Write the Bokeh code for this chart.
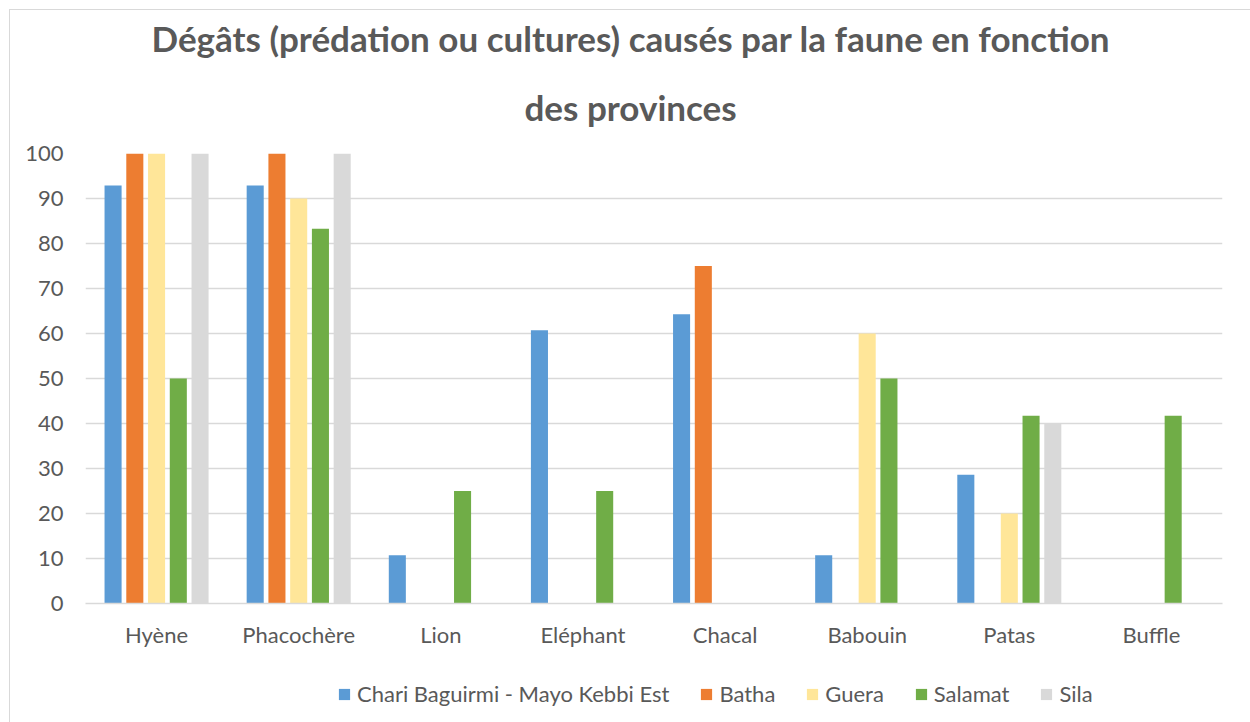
from bokeh.plotting import figure
from bokeh.models import (FactorRange, Range1d, Legend, LegendItem, Title,
                          FixedTicker, ColumnDataSource)
from bokeh.layouts import column
from bokeh.transform import dodge
from bokeh.embed import file_html
from bokeh.resources import INLINE

categories = ["Hyène", "Phacochère", "Lion", "Eléphant", "Chacal", "Babouin", "Patas", "Buffle"]
provinces = ["Chari Baguirmi - Mayo Kebbi Est", "Batha", "Guera", "Salamat", "Sila"]
chari = [92.9, 92.9, 10.7, 60.7, 64.3, 10.7, 28.6, 0]
batha = [100, 100, 0, 0, 75, 0, 0, 0]
guera = [100, 90, 0, 0, 0, 60, 20, 0]
salamat = [50, 83.3, 25, 25, 0, 50, 41.7, 41.7]
sila = [100, 100, 0, 0, 0, 0, 40, 0]
y_ticks = [0, 10, 20, 30, 40, 50, 60, 70, 80, 90, 100]
title_line1 = "Dégâts (prédation ou cultures) causés par la faune en fonction"
title_line2 = "des provinces"

colors = ["#5B9BD5", "#ED7D31", "#FFE699", "#70AD47", "#D9D9D9"]
FONT = "Lato"
TXT = "#595959"

series = [chari, batha, guera, salamat, sila]
keys = ["s0", "s1", "s2", "s3", "s4"]
data = {"cat": categories}
for k, s in zip(keys, series):
    data[k] = s
src = ColumnDataSource(data)

# ---- main chart ----
p = figure(x_range=FactorRange(factors=categories), y_range=Range1d(0, 100),
           frame_width=1137, frame_height=450,
           output_backend="svg", toolbar_location=None,
           min_border_left=85, min_border_right=28, min_border_top=153,
           min_border_bottom=47)
p.styles = {"box-shadow": "inset 9px 9px 0 0 white, inset 10px 10px 0 0 #D9D9D9"}
p.outline_line_color = None
p.background_fill_color = "white"
p.border_fill_alpha = 0

p.title.text = title_line1
p.title.align = "left"
p.title.offset = 66
p.title.text_font = FONT
p.title.text_font_style = "bold"
p.title.text_font_size = "35px"
p.title.text_color = TXT
p.title.standoff = 0
t2 = Title(text=title_line2, align="left", offset=439, text_font=FONT,
           text_font_style="bold", text_font_size="35px", text_color=TXT,
           standoff=51)
p.add_layout(t2, "above")

slot = 0.153
bw = 0.12
for i, (k, c) in enumerate(zip(keys, colors)):
    p.vbar(x=dodge("cat", (i - 2) * slot, range=p.x_range), top=k, width=bw,
           source=src, fill_color=c, line_color=None)

p.yaxis.ticker = FixedTicker(ticks=y_ticks)
p.ygrid.grid_line_color = "#D9D9D9"
p.ygrid.grid_line_width = 1.3
p.xgrid.grid_line_color = None

p.yaxis.axis_line_color = None
p.yaxis.major_tick_line_color = None
p.yaxis.minor_tick_line_color = None
p.yaxis.major_tick_out = 0
p.yaxis.major_label_standoff = 22
p.yaxis.major_label_text_font = FONT
p.yaxis.major_label_text_font_size = "22px"
p.yaxis.major_label_text_color = TXT

p.xaxis.axis_line_color = "#D9D9D9"
p.xaxis.axis_line_width = 1.3
p.xaxis.major_tick_line_color = None
p.xaxis.major_tick_out = 0
p.xaxis.major_label_standoff = 17
p.xaxis.major_label_text_font = FONT
p.xaxis.major_label_text_font_size = "22px"
p.xaxis.major_label_text_color = TXT

# ---- legend strip (proxy glyphs kept out of view) ----
q = figure(x_range=p.x_range, y_range=Range1d(1000, 1001),
           width=1250, height=72, output_backend="svg", toolbar_location=None,
           min_border=0)
q.styles = {"box-shadow": "inset 9px 0 0 0 white, inset 10px 0 0 0 #D9D9D9"}
q.axis.visible = False
q.grid.visible = False
q.outline_line_color = None
q.background_fill_alpha = 0
q.border_fill_alpha = 0
proxies = []
for i, (k, c) in enumerate(zip(keys, colors)):
    r = q.vbar(x=dodge("cat", (i - 2) * slot, range=q.x_range), top=k, width=bw,
               source=src, fill_color=c, line_color=None)
    proxies.append(r)

items = [LegendItem(label=n, renderers=[r]) for n, r in zip(provinces, proxies)]
legend = Legend(items=items, orientation="horizontal", location=(252, 15),
                glyph_width=14, glyph_height=14, label_standoff=6, spacing=30,
                padding=5, margin=0, border_line_color=None,
                background_fill_alpha=0,
                label_text_font=FONT, label_text_font_size="22px",
                label_text_color=TXT)
q.add_layout(legend, "center")

layout = column(p, q, spacing=0)
open("out.html", "w").write(file_html(layout, INLINE))
